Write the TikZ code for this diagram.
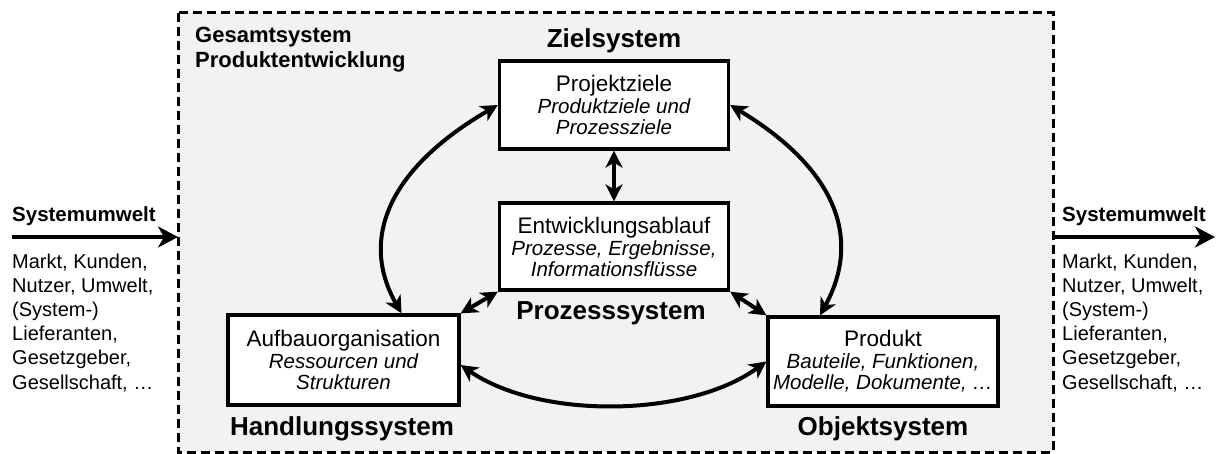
\documentclass[tikz,border=0pt]{standalone}
\usepackage{fontspec}
\setmainfont{Liberation Sans}
\usetikzlibrary{arrows.meta}
\definecolor{panelgray}{HTML}{F2F2F2}
\tikzset{
  sysbox/.style={draw=black, line width=3.3pt, fill=white, align=center, inner sep=2pt,
                 minimum width=229pt, minimum height=88pt,
                 font=\fontsize{20.5}{21}\selectfont},
  syslabel/.style={font=\bfseries\fontsize{26}{28}\selectfont, inner sep=0pt, anchor=base},
  envlabel/.style={font=\bfseries\fontsize{20.5}{24}\selectfont, inner sep=0pt, anchor=base west},
  envtext/.style={font=\fontsize{20}{24.2}\selectfont, inner sep=0pt, anchor=north west, align=left},
  link/.style={line width=4pt, {Stealth[length=17pt,width=17pt,inset=5pt]}-{Stealth[length=17pt,width=17pt,inset=5pt]}},
  inflow/.style={line width=4pt, -{Stealth[length=20pt,width=21pt,inset=6pt]}},
  boundary/.style={draw=black, line width=3pt, dash pattern=on 9pt off 5pt, fill=panelgray}
}
\newcommand{\boxtitle}[1]{{\fontsize{22.5}{21}\selectfont #1}\\[1pt]}
\begin{document}
\begin{tikzpicture}[x=1pt,y=-1pt]
  \useasboundingbox (0,0) rectangle (1216,454);

  % overall system boundary
  \path[boundary] (178,13) rectangle (1053,452);
  \node[font=\bfseries\fontsize{22}{25}\selectfont, inner sep=0pt, anchor=north west, align=left]
    (gesamt) at (195,27) {Gesamtsystem\\Produktentwicklung};

  % four subsystems
  \node[sysbox] (ziel) at (614,105)
    {\boxtitle{Projektziele}\itshape Produktziele und\\\itshape Prozessziele};
  \node[sysbox, minimum height=87pt] (ablauf) at (614,246.5)
    {\boxtitle{Entwicklungsablauf}\itshape Prozesse, Ergebnisse,\\\itshape Informationsflüsse};
  \node[sysbox, minimum width=231pt, minimum height=90pt] (aufbau) at (343.5,360)
    {\boxtitle{Aufbauorganisation}\itshape Ressourcen und\\\itshape Strukturen};
  \node[sysbox, minimum width=230pt, minimum height=89pt] (produkt) at (883,361.5)
    {\boxtitle{Produkt}\itshape Bauteile, Funktionen,\\\itshape Modelle, Dokumente, …};

  % subsystem names
  \node[syslabel] (lziel) at (614,48) {Zielsystem};
  \node[syslabel] (lprozess) at (611,320) {Prozesssystem};
  \node[syslabel] (lhandlung) at (342,435) {Handlungssystem};
  \node[syslabel] (lobjekt) at (883,435) {Objektsystem};

  % relations between the subsystems
  \draw[link] (ziel.south) -- (ablauf.north);
  \draw[link] (ziel.west) .. controls +(-110,64) and +(-42,-74) .. ([xshift=58pt]aufbau.north);
  \draw[link] (ziel.east) .. controls +(106,64) and +(42,-77) .. ([xshift=-63pt]produkt.north);
  \draw[link] ([yshift=-5pt]aufbau.east) .. controls +(80,55) and +(-77,56) .. (produkt.west);
  \draw[link] (aufbau.north east) -- (ablauf.south west);
  \draw[link] (ablauf.south east) -- (produkt.north west);

  % system environment, left
  \coordinate (inL) at (12,237);
  \coordinate (inLend) at (178,237);
  \node[envlabel] (umweltL) at (12,222) {Systemumwelt};
  \draw[inflow] (inL) -- (inLend);
  \node[envtext] (listL) at (12,253.5)
    {Markt, Kunden,\\Nutzer, Umwelt,\\(System-)\\Lieferanten,\\Gesetzgeber,\\Gesellschaft, …};

  % system environment, right
  \coordinate (outR) at (1053,237);
  \coordinate (outRend) at (1215,237);
  \node[envlabel] (umweltR) at (1062,222) {Systemumwelt};
  \draw[inflow] (outR) -- (outRend);
  \node[envtext] (listR) at (1062,253.5)
    {Markt, Kunden,\\Nutzer, Umwelt,\\(System-)\\Lieferanten,\\Gesetzgeber,\\Gesellschaft, …};
\end{tikzpicture}
\end{document}
